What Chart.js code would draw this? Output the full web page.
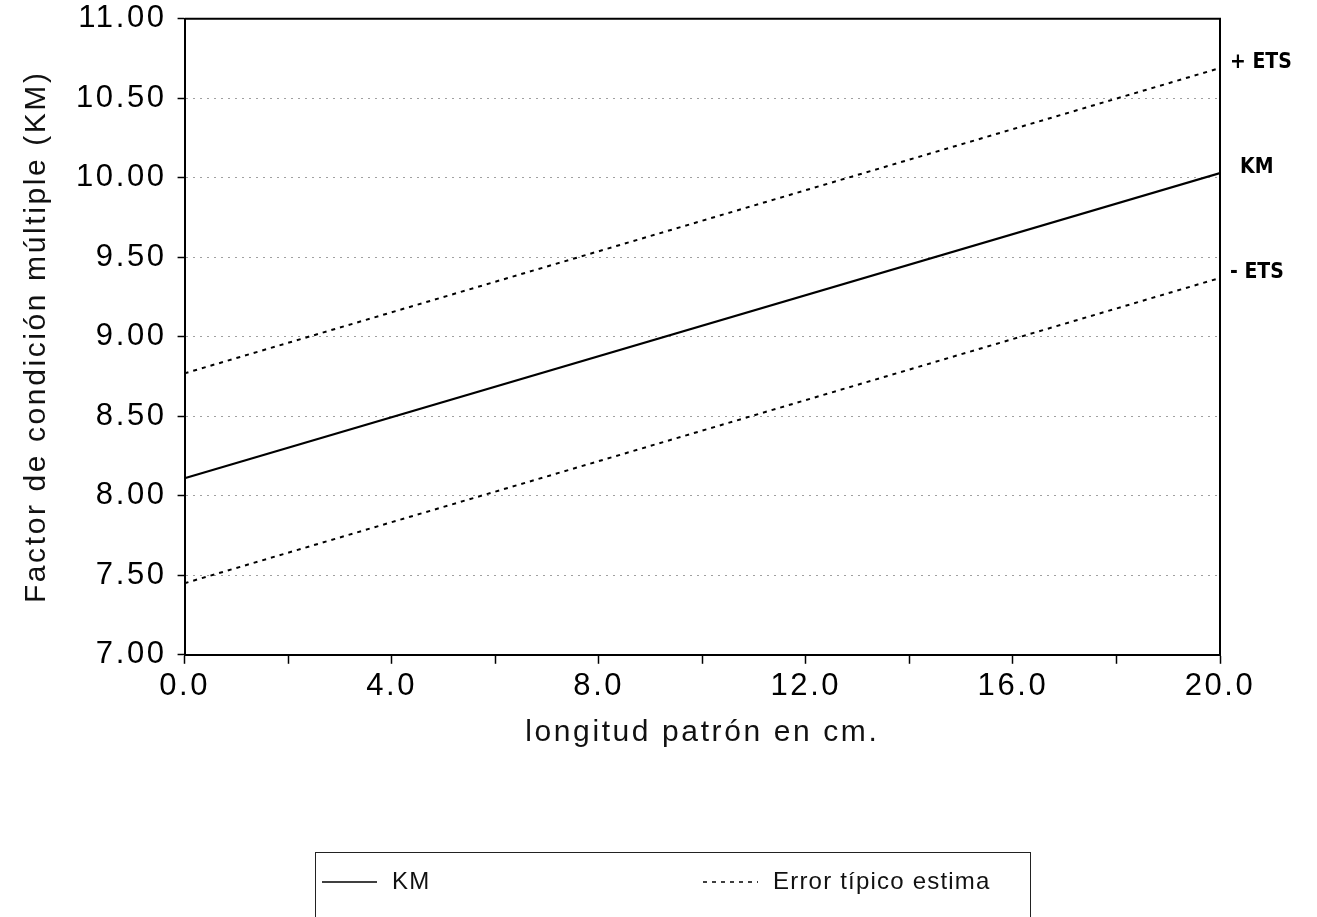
<!DOCTYPE html>
<html>
<head>
<meta charset="utf-8">
<script src="https://cdn.jsdelivr.net/npm/chart.js@4.4.1/dist/chart.umd.min.js"></script>
<style>
  html, body { margin: 0; padding: 0; background: #fff; }
  #wrap { width: 1317px; height: 917px; }
</style>
</head>
<body>
<div id="wrap"><canvas id="chart"></canvas></div>
<script>
// longitud patron (cm) vs factor de condicion multiple
var longitudes = [0, 20];
var kmValues = [8.11, 10.03];
var etsMas = [8.77, 10.69];
var etsMenos = [7.45, 9.37];
var etiquetasFinal = ['KM', '+ ETS', '- ETS'];
var leyenda = ['KM', 'Error típico estima'];

function pares(ys) {
    var out = [];
    for (let i = 0; i < longitudes.length; i++) {
        out.push({ x: longitudes[i], y: ys[i] });
    }
    return out;
}

var fuente = 'Liberation Sans, Arial, sans-serif';

// el original tiene el texto bastante espaciado
var espaciado = {
    id: 'espaciado',
    beforeUpdate: function (chart) { chart.ctx.letterSpacing = '2.6px'; },
    beforeDraw: function (chart) { chart.ctx.letterSpacing = '2.6px'; }
};

// marco superior/derecho, etiquetas al final de las lineas y caja de leyenda
var extras = {
    id: 'extras',
    afterDatasetsDraw: function (chart) {
        var ctx = chart.ctx;
        var area = chart.chartArea;
        ctx.save();
        ctx.strokeStyle = '#000';
        ctx.lineWidth = 2;
        ctx.beginPath();
        ctx.moveTo(area.left, area.top);
        ctx.lineTo(area.right, area.top);
        ctx.lineTo(area.right, area.bottom);
        ctx.stroke();

        ctx.fillStyle = '#000';
        ctx.letterSpacing = '0px';
        ctx.font = 'bold 21px DejaVu Sans Condensed, DejaVu Sans';
        ctx.textBaseline = 'middle';
        ctx.textAlign = 'left';
        chart.data.datasets.forEach(function (ds, i) {
            var meta = chart.getDatasetMeta(i);
            var last = meta.data[meta.data.length - 1];
            var dx = ds.label === 'KM' ? 20 : 10;
            ctx.fillText(etiquetasFinal[i], area.right + dx, last.y - 5);
        });

        // leyenda
        var bx = 315, by = 852;
        ctx.lineWidth = 1;
        ctx.strokeStyle = '#222';
        ctx.setLineDash([]);
        ctx.strokeRect(bx + 0.5, by + 0.5, 715, 90);
        var items = [
            { ds: chart.data.datasets[0], x: bx + 7, text: leyenda[0] },
            { ds: chart.data.datasets[1], x: bx + 388, text: leyenda[1] }
        ];
        ctx.font = '24px ' + fuente;
        ctx.letterSpacing = '1.2px';
        items.forEach(function (it) {
            ctx.strokeStyle = it.ds.borderColor;
            ctx.lineWidth = 1.5;
            ctx.setLineDash(it.ds.borderDash || []);
            ctx.beginPath();
            ctx.moveTo(it.x, by + 30);
            ctx.lineTo(it.x + 55, by + 30);
            ctx.stroke();
            ctx.setLineDash([]);
            ctx.fillStyle = '#111';
            ctx.fillText(it.text, it.x + 70, by + 30);
        });
        ctx.restore();
    }
};

var ctx = document.getElementById('chart').getContext('2d');
var myChart = new Chart(ctx, {
    type: 'line',
    data: {
        datasets: [{
            label: 'KM',
            data: pares(kmValues),
            borderColor: '#000',
            borderWidth: 2.2,
            pointRadius: 0
        }, {
            label: '+ ETS',
            data: pares(etsMas),
            borderColor: '#000',
            borderWidth: 2,
            borderDash: [4, 5],
            pointRadius: 0
        }, {
            label: '- ETS',
            data: pares(etsMenos),
            borderColor: '#000',
            borderWidth: 2,
            borderDash: [4, 5],
            pointRadius: 0
        }]
    },
    options: {
        responsive: true,
        maintainAspectRatio: false,
        animation: false,
        layout: { padding: { left: 19, right: 97, top: 0, bottom: 166 } },
        plugins: {
            legend: { display: false },
            tooltip: { enabled: false }
        },
        scales: {
            x: {
                type: 'linear',
                min: 0,
                max: 20,
                ticks: {
                    stepSize: 2,
                    autoSkip: false,
                    maxRotation: 0,
                    padding: 4,
                    color: '#000',
                    font: { family: fuente, size: 31 },
                    callback: function (v) { return v % 4 === 0 ? v.toFixed(1) : ''; }
                },
                grid: { drawOnChartArea: false, tickLength: 9, tickColor: '#000', tickWidth: 1.5 },
                border: { color: '#000', width: 2 },
                title: {
                    display: true,
                    text: 'longitud patrón en cm.',
                    color: '#111',
                    font: { family: fuente, size: 30 },
                    padding: { top: 6, bottom: 0 }
                }
            },
            y: {
                min: 7,
                max: 11,
                ticks: {
                    stepSize: 0.5,
                    padding: 11,
                    color: '#000',
                    font: { family: fuente, size: 31, lineHeight: 0.5 },
                    callback: function (v) { return v.toFixed(2); }
                },
                grid: {
                    tickLength: 7,
                    tickColor: '#000',
                    tickWidth: 1.5,
                    lineWidth: 1,
                    color: function (c) {
                        var v = c.tick ? c.tick.value : null;
                        return (v === 7 || v === 11) ? 'rgba(0,0,0,0)' : '#a0a0a0';
                    }
                },
                border: { color: '#000', width: 2, dash: [2, 5] },
                title: {
                    display: true,
                    text: 'Factor de condición múltiple (KM)',
                    color: '#111',
                    font: { family: fuente, size: 30 },
                    padding: { top: 0, bottom: 10 }
                }
            }
        }
    },
    plugins: [espaciado, extras]
});
</script>
</body>
</html>
